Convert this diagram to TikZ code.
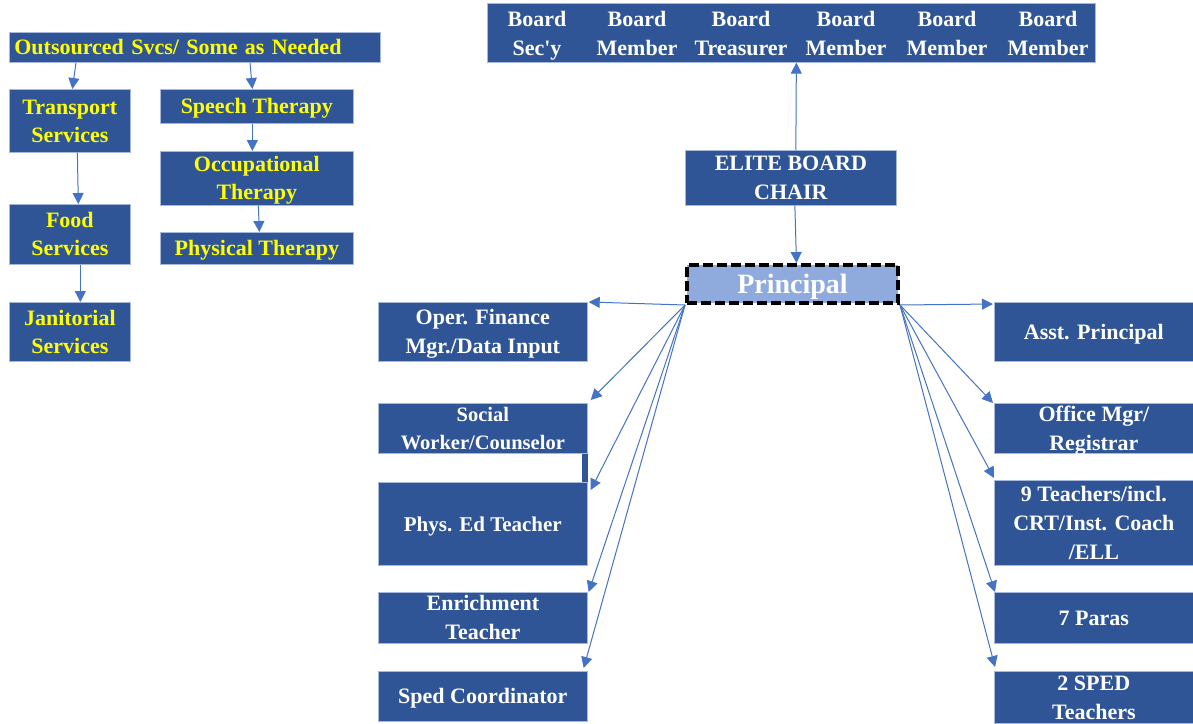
\documentclass[tikz,border=0pt]{standalone}
\usepackage{fontspec}
\setmainfont{Liberation Serif}[Ligatures=TeXOff]
\usetikzlibrary{arrows.meta}
\definecolor{boxblue}{HTML}{2F5597}
\definecolor{arrowblue}{HTML}{4472C4}
\definecolor{lightfill}{HTML}{8FAADC}
\definecolor{edgeblue}{HTML}{A6B9DD}
\definecolor{ytext}{HTML}{FFFF00}
\begin{document}
\begin{tikzpicture}[x=1pt,y=-1pt,
  box/.style={fill=boxblue, draw=edgeblue, line width=0.7pt, anchor=north west,
    inner sep=0pt, align=center, text=white, text depth=0pt,
    font=\bfseries\fontsize{22}{29}\selectfont},
  ybox/.style={box, text=ytext, font=\bfseries\fontsize{22}{28}\selectfont},
  btext/.style={inner sep=0pt, align=center, text=white, text depth=0pt,
    font=\bfseries\fontsize{22}{29}\selectfont},
  conn/.style={draw=arrowblue, line width=1pt, -{Triangle[length=11pt,width=11pt]}},
]
\useasboundingbox (0,0) rectangle (1193,723);

% ---------- outsourced services ----------
\node[ybox, minimum width=371pt, minimum height=30pt, text width=361pt,
  inner xsep=5pt, align=left] (out) at (9,32) {Outsourced Svcs/ Some as Needed};
\node[ybox, minimum width=121pt, minimum height=63pt] (trans) at (9,89) {Transport\\Services};
\node[ybox, minimum width=121pt, minimum height=60pt] (food) at (9,204) {Food\\Services};
\node[ybox, minimum width=121pt, minimum height=59pt] (jan) at (9,302) {Janitorial\\Services};
\node[ybox, minimum width=193pt, minimum height=34pt] (speech) at (160,89) {Speech Therapy};
\node[ybox, minimum width=193pt, minimum height=54pt] (occ) at (160,151) {Occupational\\Therapy};
\node[ybox, minimum width=193pt, minimum height=32pt] (physt) at (160,232) {Physical Therapy};

\draw[conn] ([xshift=67pt]out.south west) -- ([xshift=2.5pt]trans.north);
\draw[conn] ([xshift=241pt]out.south west) -- ([xshift=-4.5pt]speech.north);
\draw[conn] ([xshift=7.5pt]trans.south) -- ([xshift=8.5pt]food.north);
\draw[conn] ([xshift=-4.5pt]speech.south) -- ([xshift=-4.5pt]occ.north);
\draw[conn] ([xshift=10.5pt]food.south) -- ([xshift=10.5pt]jan.north);
\draw[conn] ([xshift=1.5pt]occ.south) -- ([xshift=2.5pt]physt.north);

% ---------- board ----------
\node[box, minimum width=608pt, minimum height=59pt] (board) at (487,3) {};
\node[btext] (b1) at (537,33) {Board\\Sec'y};
\node[btext] (b2) at (637,33) {Board\\Member};
\node[btext] (b3) at (741,33) {Board\\Treasurer};
\node[btext] (b4) at (846,33) {Board\\Member};
\node[btext] (b5) at (947,33) {Board\\Member};
\node[btext] (b6) at (1048,33) {Board\\Member};

\node[box, minimum width=211pt, minimum height=55pt] (chair) at (685,150) {ELITE BOARD\\CHAIR};
\node[box, fill=lightfill, draw=black, line width=4pt, dash pattern=on 10pt off 4pt,
  minimum width=211pt, minimum height=38pt,
  font=\bfseries\fontsize{28}{32}\selectfont] (prin) at (685,263) {Principal};

\draw[conn] ([xshift=5pt]chair.north) -- ([xshift=5pt]board.south);
\draw[conn] ([xshift=4pt]chair.south) -- ([xshift=4pt]prin.north);

% ---------- left staff ----------
\node[box, minimum width=209pt, minimum height=59pt] (oper) at (378,302) {Oper. Finance\\Mgr./Data Input};
\fill[boxblue] (581.5,452) rectangle (587.5,483);
\node[box, minimum width=209pt, minimum height=50pt,
  font=\bfseries\fontsize{20.5}{28}\selectfont] (social) at (378,403) {Social\\Worker/Counselor};
\node[box, minimum width=209pt, minimum height=83pt,
  font=\bfseries\fontsize{21}{29}\selectfont] (phys) at (378,482) {Phys. Ed Teacher};
\node[box, minimum width=209pt, minimum height=51pt] (enrich) at (378,592) {Enrichment\\Teacher};
\node[box, minimum width=209pt, minimum height=50pt] (sped) at (378,671) {Sped Coordinator};

% ---------- right staff ----------
\node[box, minimum width=199pt, minimum height=59pt] (asst) at (994,302) {Asst. Principal};
\node[box, minimum width=199pt, minimum height=50pt] (office) at (994,403) {Office Mgr/\\Registrar};
\node[box, minimum width=199pt, minimum height=85pt] (teach) at (994,480) {9 Teachers/incl.\\CRT/Inst. Coach\\/ELL};
\node[box, minimum width=199pt, minimum height=51pt] (paras) at (994,592) {7 Paras};
\node[box, minimum width=199pt, minimum height=52pt] (speds) at (994,671) {2 SPED\\Teachers};

% ---------- principal connectors ----------
\draw[conn] (prin.south west) -- ([xshift=1pt]oper.north east);
\draw[conn] (prin.south west) -- ([shift={(3pt,3pt)}]social.north east);
\draw[conn] (prin.south west) -- ([shift={(3pt,-8pt)}]phys.north east);
\draw[conn] (prin.south west) -- ([xshift=1pt]enrich.north east);
\draw[conn] (prin.south west) -- ([shift={(-4pt,3pt)}]sped.north east);

\draw[conn] (prin.south east) -- ([shift={(-1pt,-2pt)}]asst.north west);
\draw[conn] (prin.south east) -- ([xshift=-1pt]office.north west);
\draw[conn] (prin.south east) -- ([yshift=2pt]teach.north west);
\draw[conn] (prin.south east) -- ([xshift=1pt]paras.north west);
\draw[conn] (prin.south east) -- ([shift={(1pt,4pt)}]speds.north west);
\end{tikzpicture}
\end{document}
